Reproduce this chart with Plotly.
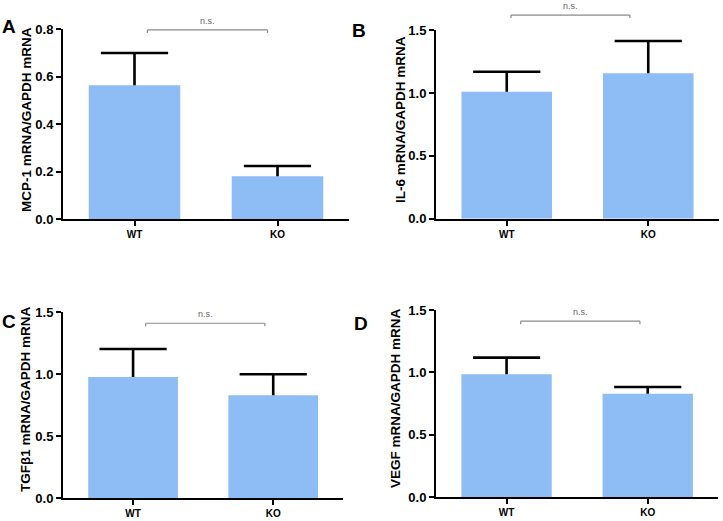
import plotly.graph_objects as go

# ---- data ----
groups = ["WT", "KO"]
mcp1_mean = [0.563, 0.180]
mcp1_err = [0.136, 0.043]
il6_mean = [1.011, 1.158]
il6_err = [0.159, 0.257]
tgfb1_mean = [0.978, 0.831]
tgfb1_err = [0.226, 0.169]
vegf_mean = [0.984, 0.829]
vegf_err = [0.134, 0.053]

panel_letters = ["A", "B", "C", "D"]
y_titles = ["MCP-1 mRNA/GAPDH mRNA", "IL-6 mRNA/GAPDH mRNA",
            "TGFβ1 mRNA/GAPDH mRNA", "VEGF mRNA/GAPDH mRNA"]
y_max = [0.8, 1.5, 1.5, 1.5]
y_dtick = [0.2, 0.5, 0.5, 0.5]
sig_label = "n.s."
# bracket start/end in category units, bracket height (fraction of y domain)
bracket_x0 = [0.09, 0.03, 0.09, 0.10]
bracket_x1 = [0.93, 0.87, 0.94, 0.945]
bracket_y = [0.995, 1.081, 0.941, 0.940]

means = [mcp1_mean, il6_mean, tgfb1_mean, vegf_mean]
errs = [mcp1_err, il6_err, tgfb1_err, vegf_err]

W, H = 723, 521
# subplot pixel boxes: (left, right, top, bottom)
boxes = [(63, 349, 29, 219), (436, 719, 30.3, 218.7),
         (63, 343.3, 312.3, 498.3), (436, 718.3, 310, 497)]
letter_pos = [(9, 27), (359, 31), (9, 321), (361, 323)]
title_pos = [(27, 120), (401, 120), (25, 399), (395, 398)]

BAR = "#8EBCF5"
FONT = "Liberation Sans, Arial, sans-serif"

fig = go.Figure()
layout = dict(width=W, height=H, margin=dict(l=0, r=0, t=0, b=0, autoexpand=False),
              plot_bgcolor="white", paper_bgcolor="white", showlegend=False,
              bargap=0.36, font=dict(family=FONT, color="black"))
shapes = []
annotations = []

for i in range(4):
    n = "" if i == 0 else str(i + 1)
    xa, ya = "x" + n, "y" + n
    l, r, t, b = boxes[i]
    tops = [m + e for m, e in zip(means[i], errs[i])]
    fig.add_trace(go.Bar(
        x=groups, y=means[i], xaxis=xa, yaxis=ya,
        marker=dict(color=BAR, line=dict(width=0)),
        error_y=dict(type="data", array=errs[i], arrayminus=[0, 0],
                     symmetric=False, color="black", thickness=2.6, width=0),
        hoverinfo="skip"))
    # error-bar caps
    fig.add_trace(go.Scatter(
        x=groups, y=tops, xaxis=xa, yaxis=ya, mode="markers",
        marker=dict(symbol="line-ew", size=48, color="black",
                    line=dict(color="black", width=2.6)),
        cliponaxis=False, hoverinfo="skip"))
    layout["xaxis" + n] = dict(
        domain=[l / W, r / W], anchor=ya, range=[-0.5, 1.5], automargin=False,
        showline=True, linecolor="black", linewidth=2,
        ticks="outside", ticklen=5, tickwidth=2, tickcolor="black",
        tickfont=dict(size=10, family=FONT, color="black", weight="bold"),
        showgrid=False, zeroline=False, fixedrange=True)
    layout["yaxis" + n] = dict(
        domain=[1 - b / H, 1 - t / H], anchor=xa, range=[0, y_max[i]], automargin=False,
        dtick=y_dtick[i], tickformat=".1f",
        showline=True, linecolor="black", linewidth=2,
        ticks="outside", ticklen=5, tickwidth=2, tickcolor="black",
        tickfont=dict(size=13, family=FONT, color="black", weight="bold"),
        showgrid=False, zeroline=False, fixedrange=True)
    # y-axis title
    tx, ty = title_pos[i]
    annotations.append(dict(
        text="<b>%s</b>" % y_titles[i], xref="paper", yref="paper",
        x=tx / W, y=1 - ty / H, xanchor="center", yanchor="middle",
        textangle=-90, showarrow=False,
        font=dict(size=13.5, family=FONT, color="black")))
    # significance bracket
    yd = ya + " domain"
    h = 3.0 / (b - t)
    for (x0, x1, y0, y1) in [(bracket_x0[i], bracket_x1[i], bracket_y[i], bracket_y[i]),
                             (bracket_x0[i], bracket_x0[i], bracket_y[i], bracket_y[i] - h),
                             (bracket_x1[i], bracket_x1[i], bracket_y[i], bracket_y[i] - h)]:
        shapes.append(dict(type="line", xref=xa, yref=yd, x0=x0, x1=x1, y0=y0, y1=y1,
                           line=dict(color="#8a8a8a", width=1.2)))
    annotations.append(dict(
        text=sig_label, xref=xa, yref=yd,
        x=(bracket_x0[i] + bracket_x1[i]) / 2, y=bracket_y[i],
        yanchor="bottom", yshift=2, showarrow=False,
        font=dict(size=9, family=FONT, color="#666666")))
    lx, ly = letter_pos[i]
    annotations.append(dict(
        text="<b>%s</b>" % panel_letters[i], xref="paper", yref="paper",
        x=lx / W, y=1 - ly / H, xanchor="center", yanchor="middle",
        showarrow=False, font=dict(size=19, family=FONT, color="black")))

layout["shapes"] = shapes
layout["annotations"] = annotations
fig.update_layout(**layout)
fig.write_html("out.html", config={"displayModeBar": False},
               post_script="document.body.style.margin='0px';document.body.style.overflow='hidden';")
